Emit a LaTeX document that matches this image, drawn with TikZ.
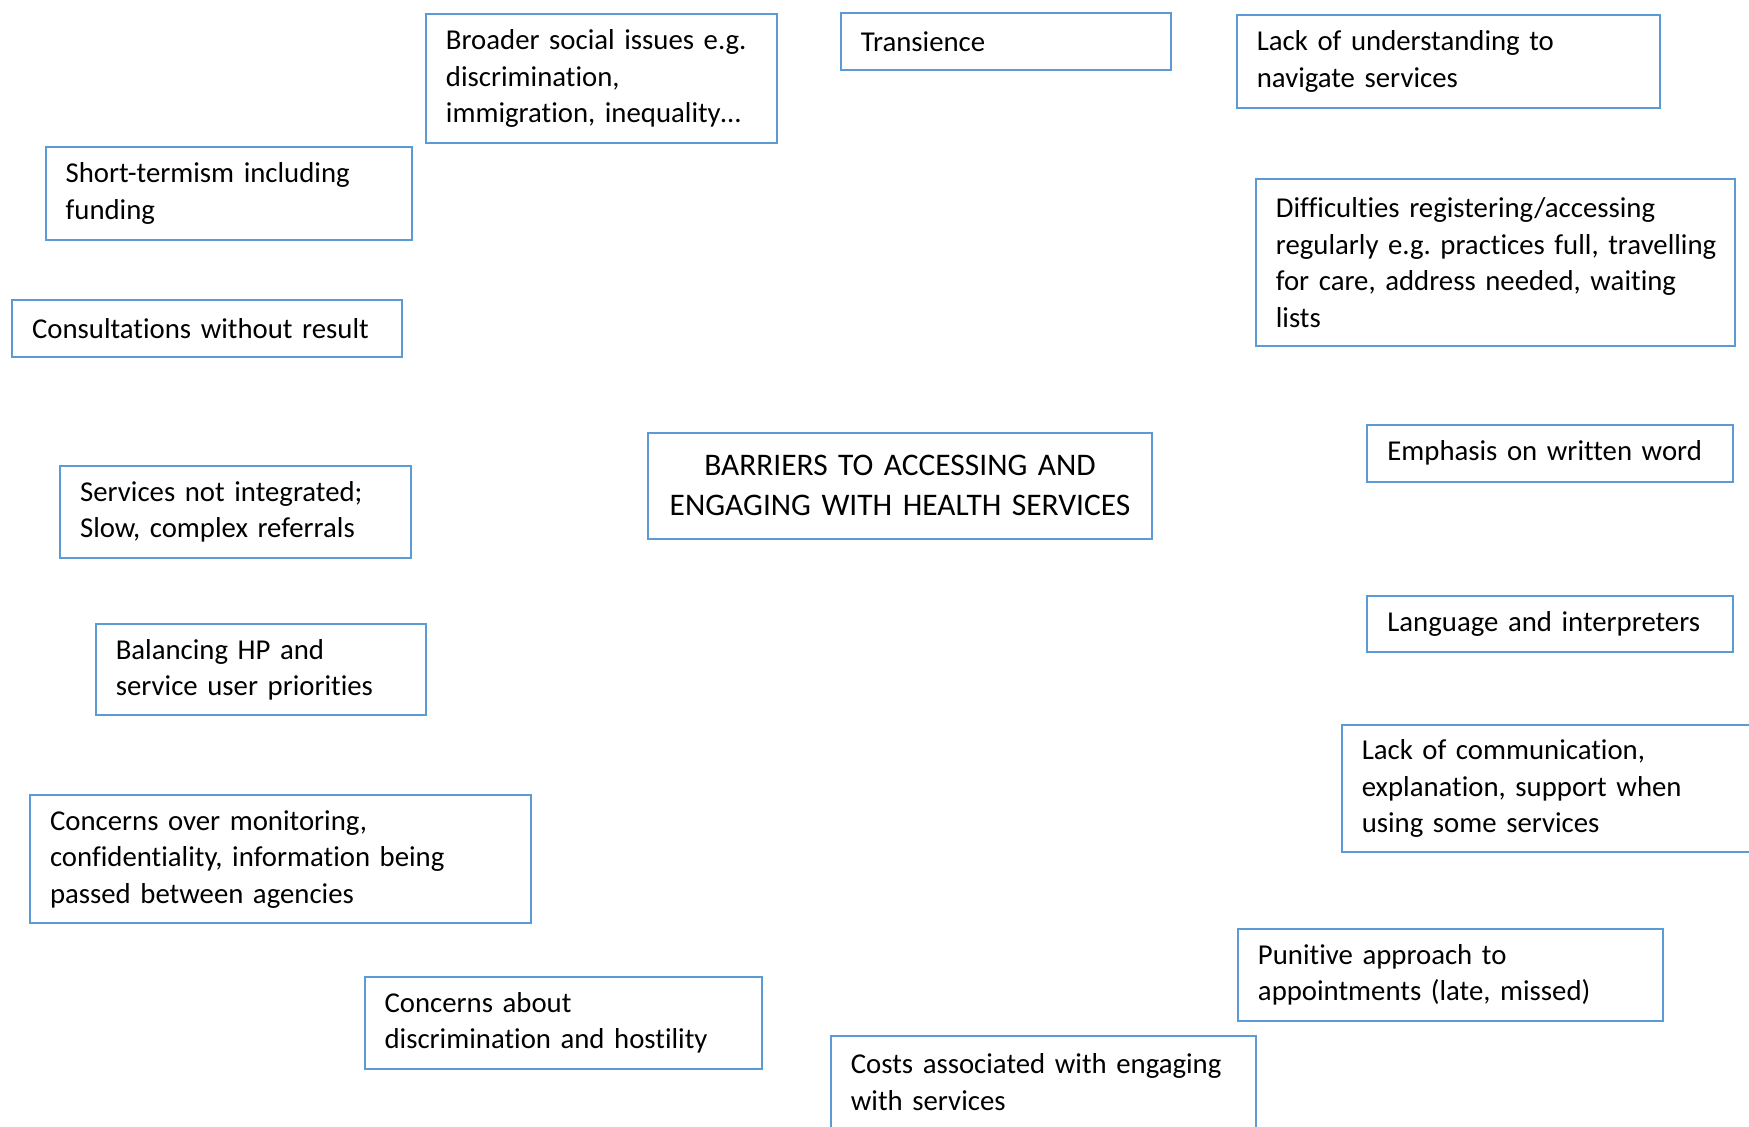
\documentclass[tikz,border=0pt]{standalone}
\usepackage{fontspec}
\setmainfont{Carlito}[Ligatures={NoCommon,NoContextual}]
\usepackage{xcolor}
\usetikzlibrary{positioning}
\definecolor{boxblue}{RGB}{91,155,213}
\frenchspacing
\hyphenpenalty=10000
\exhyphenpenalty=10000

\tikzset{
    barrier/.style={draw=boxblue, line width=0.75pt, anchor=north west, inner xsep=7.5pt, inner ysep=0pt,
        align=left, font=\fontsize{10.8}{13.75}\selectfont},
    hub/.style={barrier, inner xsep=3pt, align=center, font=\fontsize{11.8}{14.9}\selectfont}
}

\begin{document}
\begin{tikzpicture}
    \clip (0,0) rectangle (23.075,-14.856);
    \useasboundingbox (0,0) rectangle (23.075,-14.856);

    % Centre box
    \node[hub, text width=6.44cm, minimum height=1.398cm] (barriers) at (8.535,-5.695)
        {BARRIERS TO ACCESSING AND\\ENGAGING WITH HEALTH SERVICES};

    % Top row
    \node[barrier, text width=4.10cm, minimum height=1.692cm] (social) at (5.607,-0.177)
        {Broader social issues e.g.\\discrimination,\\immigration, inequality\dots};
    \node[barrier, text width=3.83cm, minimum height=0.751cm] (transience) at (11.081,-0.162)
        {Transience};
    \node[barrier, text width=5.06cm, minimum height=1.221cm] (navigate) at (16.305,-0.191)
        {Lack of understanding to\\navigate services};

    % Left side
    \node[barrier, text width=4.30cm, minimum height=1.221cm] (shortterm) at (0.589,-1.928)
        {Short-termism including\\funding};
    \node[barrier, text width=4.62cm, minimum height=0.751cm] (consult) at (0.147,-3.944)
        {Consultations without result};
    \node[barrier, text width=4.10cm, minimum height=1.207cm] (integrated) at (0.780,-6.137)
        {Services not integrated;\\Slow, complex referrals};
    \node[barrier, text width=3.83cm, minimum height=1.192cm] (priorities) at (1.251,-8.226)
        {Balancing HP and\\service user priorities};
    \node[barrier, text width=6.08cm, minimum height=1.692cm] (monitoring) at (0.383,-10.478)
        {Concerns over monitoring,\\confidentiality, information being\\passed between agencies};
    \node[barrier, text width=4.71cm, minimum height=1.207cm] (hostility) at (4.797,-12.877)
        {Concerns about\\discrimination and hostility};

    % Right side
    \node[barrier, text width=5.80cm, minimum height=2.193cm] (registering) at (16.556,-2.355)
        {Difficulties registering/accessing\\\mbox{regularly e.g. practices full, travelling}\\for care, address needed, waiting\\lists};
    \node[barrier, text width=4.30cm, minimum height=0.751cm] (written) at (18.027,-5.592)
        {Emphasis on written word};
    \node[barrier, text width=4.30cm, minimum height=0.751cm] (language) at (18.027,-7.844)
        {Language and interpreters};
    \node[barrier, text width=5.06cm, minimum height=1.678cm] (communication) at (17.689,-9.551)
        {Lack of communication,\\explanation, support when\\using some services};
    \node[barrier, text width=5.08cm, minimum height=1.207cm] (punitive) at (16.320,-12.244)
        {Punitive approach to\\appointments (late, missed)};

    % Bottom
    \node[barrier, text width=5.08cm, minimum height=1.221cm] (costs) at (10.949,-13.656)
        {Costs associated with engaging\\with services};
\end{tikzpicture}
\end{document}
